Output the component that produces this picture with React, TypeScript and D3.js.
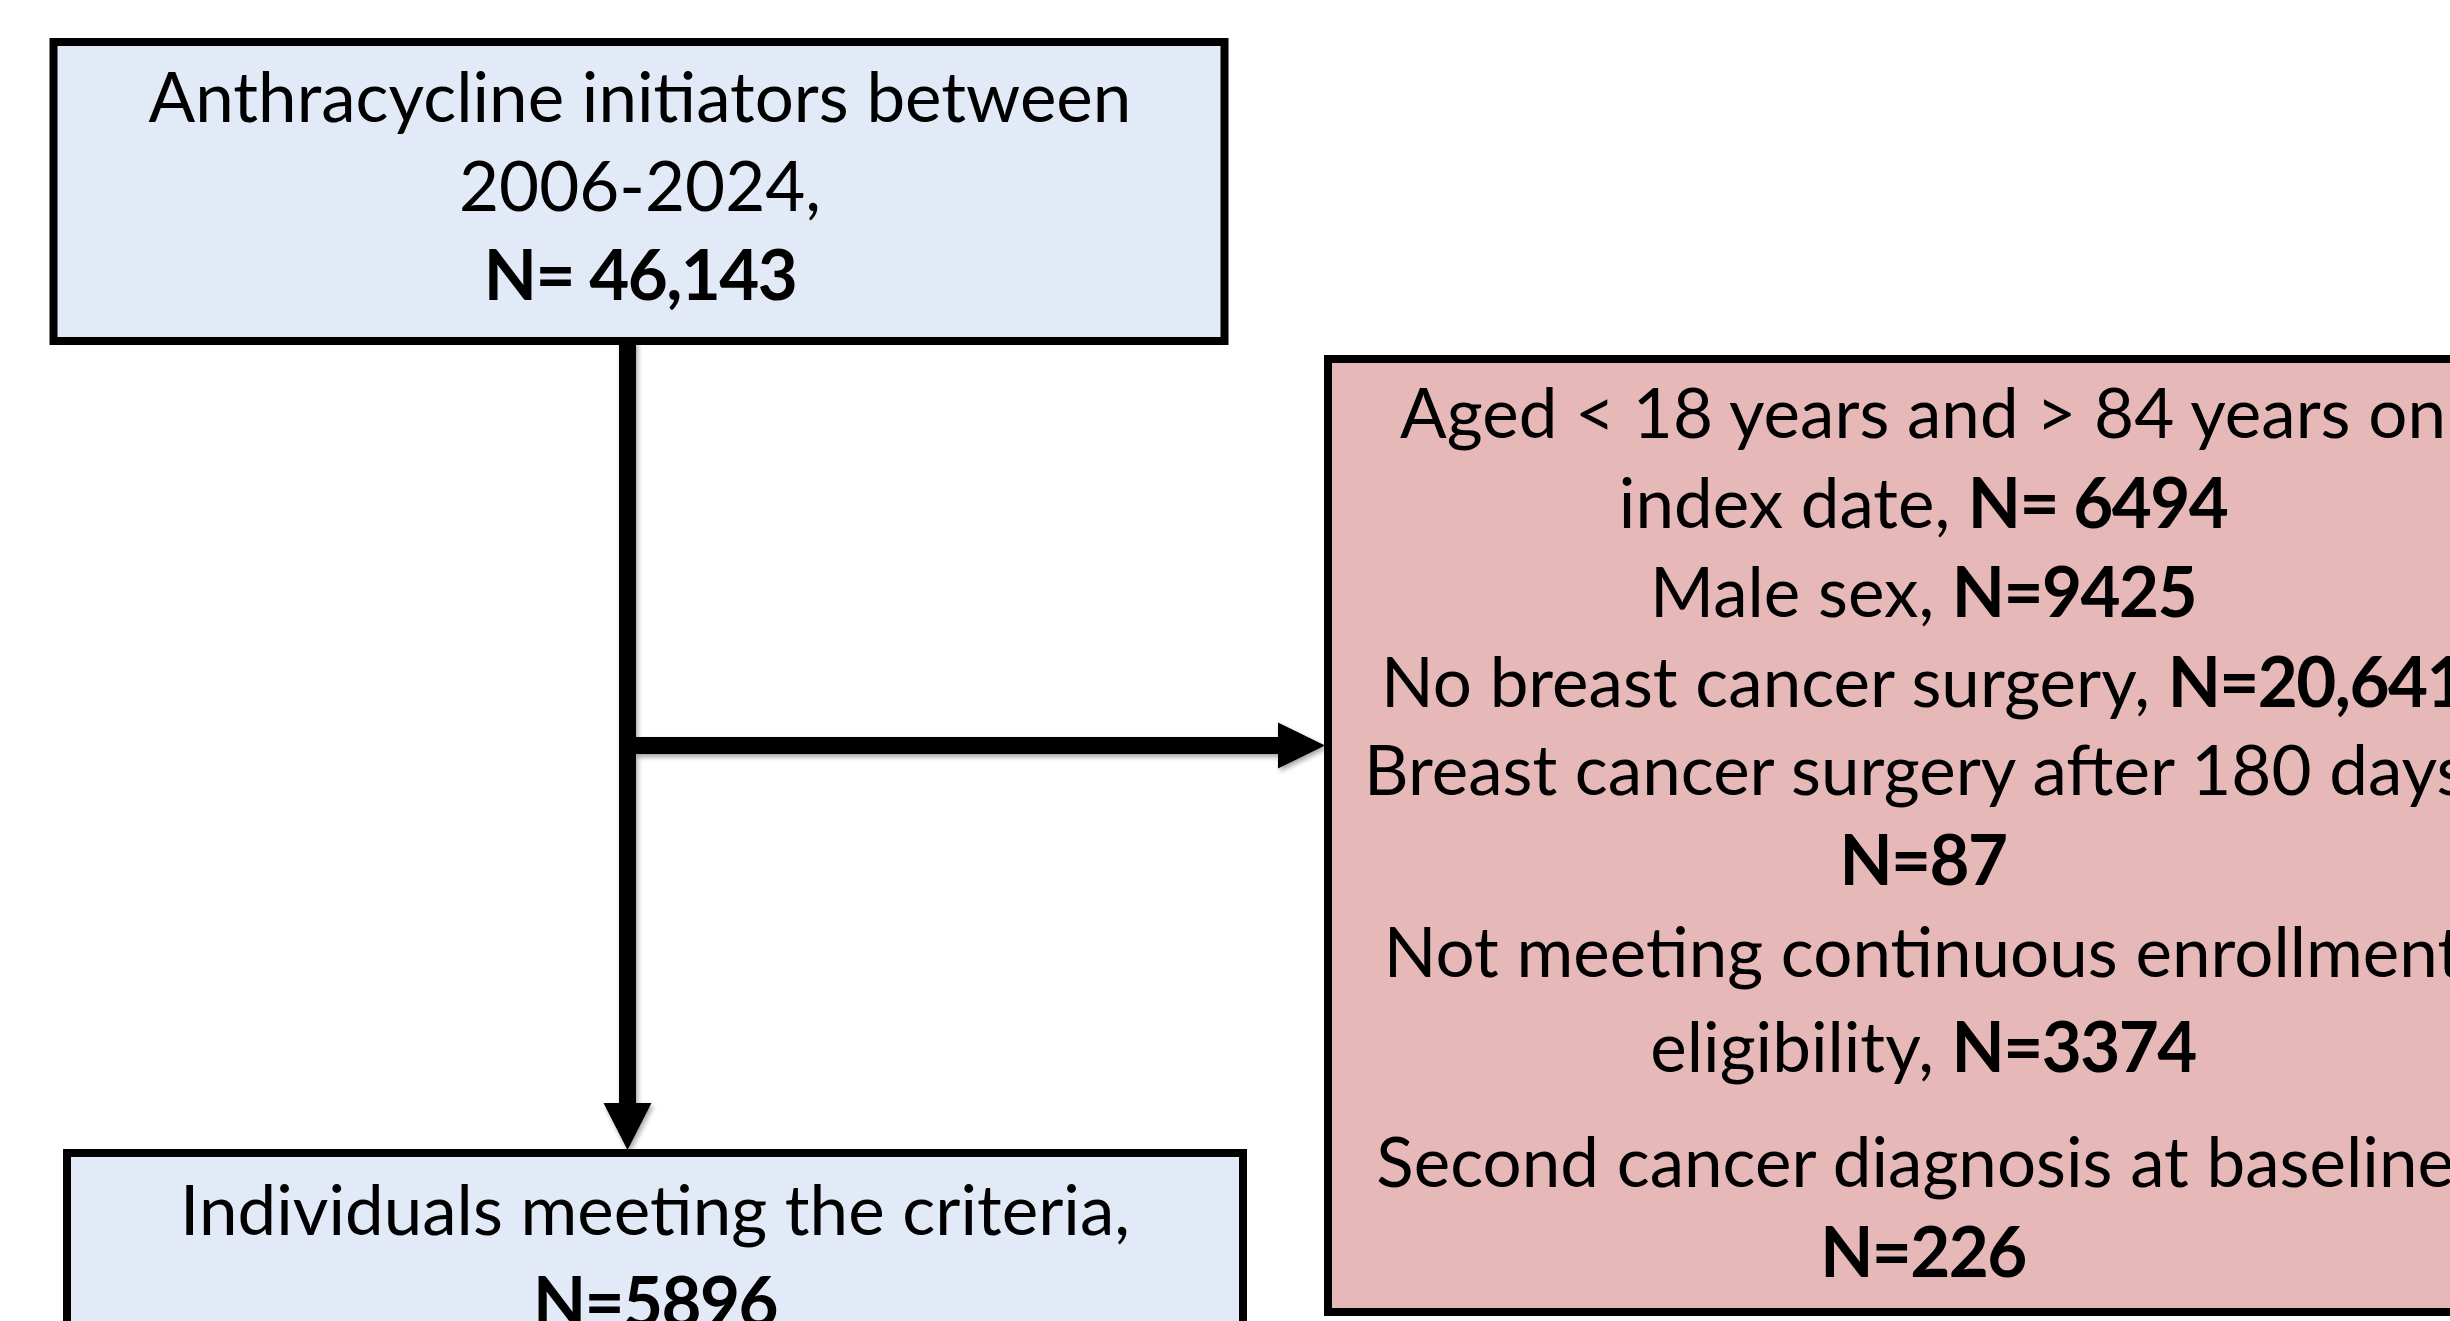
import { useEffect, useRef } from 'react';
import * as d3 from 'd3';

type Seg = [string, boolean]; // [text, bold]

// cohort counts and labels
const sourceLines: Seg[][] = [
    [['Anthracycline initiators between', false]],
    [['2006-2024,', false]],
    [['N= 46,143', true]],
];

const exclusionLines: Seg[][] = [
    [['Aged < 18 years and > 84 years on', false]],
    [['index date, ', false], ['N= 6494', true]],
    [['Male sex, ', false], ['N=9425', true]],
    [['No breast cancer surgery, ', false], ['N=20,641', true]],
    [['Breast cancer surgery after 180 days,', false]],
    [['N=87', true]],
    [['Not meeting continuous enrollment', false]],
    [['eligibility, ', false], ['N=3374', true]],
    [['Second cancer diagnosis at baseline,', false]],
    [['N=226', true]],
];

const finalLines: Seg[][] = [
    [['Individuals meeting the criteria,', false]],
    [['N=5896', true]],
];

const W = 2450;
const H = 1321;
const FONT = 'Lato, "Open Sans", sans-serif';
const FONT_SIZE = 70;
const REF_WIDTH = 983;   // width of the first line in the picture
const BORDER = 8;
const ARROW_W = 17;

const BLUE = '#e2eaf7';
const PINK = '#e6b8b8';

// box geometry and text baselines
const boxes = [
    { x0: 53.5, y0: 42, x1: 1224.5, y1: 341, fill: BLUE, lines: sourceLines, cx: 640,
      baselines: [122, 211, 300] },
    { x0: 1328, y0: 359, x1: 2520, y1: 1312, fill: PINK, lines: exclusionLines, cx: 1923,
      baselines: [438, 528, 617, 707, 795, 885, 977, 1072, 1187, 1277] },
    { x0: 67, y0: 1153, x1: 1243, y1: 1500, fill: BLUE, lines: finalLines, cx: 655,
      baselines: [1235, 1327] },
];

const trunkX = 627.5;
const branchY = 745.5;

export default function App() {
    const svgRef = useRef<SVGSVGElement>(null);

    useEffect(() => {
        document.body.style.margin = '0';
        if (!svgRef.current) return;
        const svg = d3.select(svgRef.current);
        svg.selectAll('*').remove();

        const defs = svg.append('defs');
        defs.append('filter').attr('id', 'shadow')
            .attr('x', '-20%').attr('y', '-20%').attr('width', '160%').attr('height', '160%')
            .append('feDropShadow')
            .attr('dx', 2).attr('dy', 3).attr('stdDeviation', 2.5)
            .attr('flood-color', '#000').attr('flood-opacity', 0.35);

        // boxes
        svg.selectAll('rect.box').data(boxes).join('rect')
            .attr('class', 'box')
            .attr('x', d => d.x0).attr('y', d => d.y0)
            .attr('width', d => d.x1 - d.x0).attr('height', d => d.y1 - d.y0)
            .attr('fill', d => d.fill)
            .attr('stroke', '#000').attr('stroke-width', BORDER);

        // connectors
        const top = boxes[0], right = boxes[1], bottom = boxes[2];
        const headLen = 47, headHalf = 24;
        const arrows = svg.append('g').attr('filter', 'url(#shadow)');
        const line = d3.line();

        arrows.append('path')
            .attr('d', line([[trunkX, top.y1], [trunkX, bottom.y0 - BORDER / 2 - headLen + 2]]))
            .attr('stroke', '#000').attr('stroke-width', ARROW_W).attr('fill', 'none');
        arrows.append('path')
            .attr('d', line([[trunkX - ARROW_W / 2, branchY], [right.x0 - BORDER / 2 - headLen + 2, branchY]]))
            .attr('stroke', '#000').attr('stroke-width', ARROW_W).attr('fill', 'none');

        const tipDown: [number, number] = [trunkX, bottom.y0 - BORDER / 2 + 1];
        arrows.append('path')
            .attr('d', line([
                [tipDown[0] - headHalf, tipDown[1] - headLen],
                [tipDown[0] + headHalf, tipDown[1] - headLen],
                tipDown,
            ]) + 'Z')
            .attr('fill', '#000');
        const tipRight: [number, number] = [right.x0 - BORDER / 2 + 1, branchY];
        arrows.append('path')
            .attr('d', line([
                [tipRight[0] - headLen, tipRight[1] - 23],
                [tipRight[0] - headLen, tipRight[1] + 23],
                tipRight,
            ]) + 'Z')
            .attr('fill', '#000');

        // text
        const texts: d3.Selection<SVGTextElement, unknown, null, undefined>[] = [];
        boxes.forEach(b => {
            b.lines.forEach((segs, i) => {
                const t = svg.append('text')
                    .attr('text-anchor', 'middle')
                    .attr('font-family', FONT)
                    .attr('font-size', FONT_SIZE)
                    .attr('fill', '#000')
                    .attr('data-cx', b.cx).attr('data-y', b.baselines[i]);
                segs.forEach(([s, bold]) => {
                    t.append('tspan').attr('font-weight', bold ? 700 : 400)
                        .attr('letter-spacing', bold ? -1.6 : 0)
                        .style('white-space', 'pre').text(s);
                });
                texts.push(t as any);
            });
        });

        const measured = (texts[0].node() as SVGTextElement).getComputedTextLength();
        const sx = measured > 0 ? REF_WIDTH / measured : 1;
        texts.forEach(t => {
            const cx = +t.attr('data-cx'), y = +t.attr('data-y');
            t.attr('transform', `translate(${cx},${y}) scale(${sx},1)`);
        });
    }, []);

    return <svg ref={svgRef} width={W} height={H} style={{ display: 'block', background: '#fff' }} />;
}
